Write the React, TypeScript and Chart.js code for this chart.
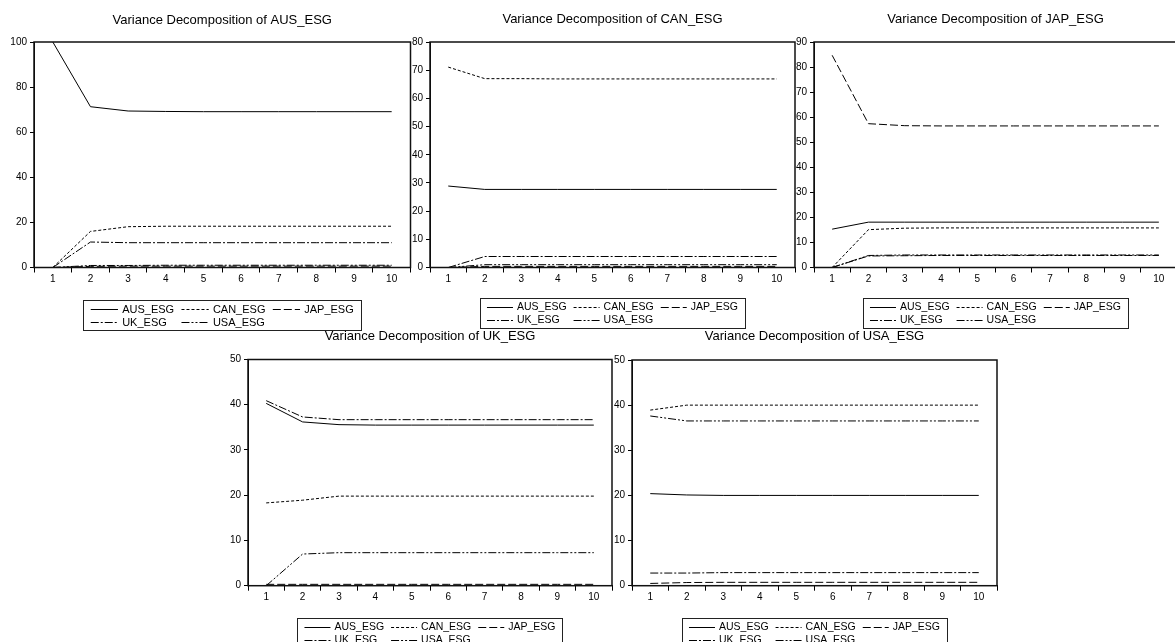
import React, { useEffect, useRef } from "react";
import { Chart, registerables } from "chart.js";

Chart.register(...registerables);

// ---------- data ----------
const periods = ["1", "2", "3", "4", "5", "6", "7", "8", "9", "10"];
const seriesNames = ["AUS_ESG", "CAN_ESG", "JAP_ESG", "UK_ESG", "USA_ESG"];

// Variance Decomposition of AUS_ESG
const ausAUS = [100, 71.3, 69.4, 69.2, 69.1, 69.1, 69.1, 69.1, 69.1, 69.1];
const ausCAN = [0, 16.0, 18.1, 18.3, 18.3, 18.3, 18.3, 18.3, 18.3, 18.3];
const ausJAP = [0, 0.5, 0.6, 0.6, 0.6, 0.6, 0.6, 0.6, 0.6, 0.6];
const ausUK = [0, 11.3, 11.0, 11.0, 11.0, 11.0, 11.0, 11.0, 11.0, 11.0];
const ausUSA = [0, 0.9, 0.9, 1.0, 1.0, 1.0, 1.0, 1.0, 1.0, 1.0];

// Variance Decomposition of CAN_ESG
const canAUS = [28.9, 27.7, 27.7, 27.7, 27.7, 27.7, 27.7, 27.7, 27.7, 27.7];
const canCAN = [71.1, 67.0, 67.0, 66.9, 66.9, 66.9, 66.9, 66.9, 66.9, 66.9];
const canJAP = [0, 0.4, 0.4, 0.4, 0.4, 0.4, 0.4, 0.4, 0.4, 0.4];
const canUK = [0, 3.9, 3.9, 3.9, 3.9, 3.9, 3.9, 3.9, 3.9, 3.9];
const canUSA = [0, 1.0, 1.0, 1.0, 1.0, 1.0, 1.0, 1.0, 1.0, 1.0];

// Variance Decomposition of JAP_ESG
const japAUS = [15.3, 18.1, 18.1, 18.1, 18.1, 18.1, 18.1, 18.1, 18.1, 18.1];
const japCAN = [0, 15.1, 15.7, 15.8, 15.8, 15.8, 15.8, 15.8, 15.8, 15.8];
const japJAP = [84.7, 57.4, 56.6, 56.5, 56.5, 56.5, 56.5, 56.5, 56.5, 56.5];
const japUK = [0, 4.6, 4.7, 4.8, 4.8, 4.8, 4.8, 4.8, 4.8, 4.8];
const japUSA = [0, 4.8, 5.0, 5.0, 5.0, 5.0, 5.0, 5.0, 5.0, 5.0];

// Variance Decomposition of UK_ESG
const ukAUS = [40.3, 36.2, 35.6, 35.5, 35.5, 35.5, 35.5, 35.5, 35.5, 35.5];
const ukCAN = [18.3, 18.9, 19.8, 19.8, 19.8, 19.8, 19.8, 19.8, 19.8, 19.8];
const ukJAP = [0.3, 0.3, 0.3, 0.3, 0.3, 0.3, 0.3, 0.3, 0.3, 0.3];
const ukUK = [40.9, 37.3, 36.7, 36.7, 36.7, 36.7, 36.7, 36.7, 36.7, 36.7];
const ukUSA = [0, 7.0, 7.3, 7.3, 7.3, 7.3, 7.3, 7.3, 7.3, 7.3];

// Variance Decomposition of USA_ESG
const usaAUS = [20.4, 20.1, 20.0, 20.0, 20.0, 20.0, 20.0, 20.0, 20.0, 20.0];
const usaCAN = [38.9, 40.0, 40.0, 40.0, 40.0, 40.0, 40.0, 40.0, 40.0, 40.0];
const usaJAP = [0.5, 0.7, 0.75, 0.75, 0.75, 0.75, 0.75, 0.75, 0.75, 0.75];
const usaUK = [2.8, 2.8, 2.9, 2.9, 2.9, 2.9, 2.9, 2.9, 2.9, 2.9];
const usaUSA = [37.6, 36.5, 36.5, 36.5, 36.5, 36.5, 36.5, 36.5, 36.5, 36.5];

const titles = [
  "Variance Decomposition of AUS_ESG",
  "Variance Decomposition of CAN_ESG",
  "Variance Decomposition of JAP_ESG",
  "Variance Decomposition of UK_ESG",
  "Variance Decomposition of USA_ESG",
];
const yMaxes = [100, 80, 90, 50, 50];
const ySteps = [20, 10, 10, 10, 10];

// ---------- styles / layout ----------
const FONT = '"Liberation Sans", Arial, Helvetica, sans-serif';
const dashStyles: number[][] = [[], [3, 2], [8, 3], [8, 2, 2, 2], [8, 2, 2, 2, 2, 2]];

type Layout = {
  left: number;
  top: number;
  right: number;
  bottom: number;
  titleY: number;
  legendTop: number;
  legendFont: number;
};

const layouts: Layout[] = [
  { left: 34, top: 42, right: 410.5, bottom: 267.5, titleY: 20, legendTop: 300, legendFont: 11 },
  { left: 430, top: 42, right: 795, bottom: 267.5, titleY: 19.5, legendTop: 298, legendFont: 10.5 },
  { left: 814, top: 42, right: 1177, bottom: 267.5, titleY: 19.5, legendTop: 298, legendFont: 10.5 },
  { left: 248, top: 359.5, right: 612, bottom: 585.7, titleY: 336, legendTop: 618, legendFont: 10.5 },
  { left: 632, top: 360, right: 997, bottom: 585.7, titleY: 336, legendTop: 618, legendFont: 10.5 },
];

const Y_AXIS_W = 32;
const X_AXIS_H = 20;

const framePlugin = {
  id: "evFrame",
  afterDraw(chart: any, _args: any, opts: any) {
    const { ctx, chartArea: a } = chart;
    ctx.save();
    // plot frame
    ctx.strokeStyle = "#111";
    ctx.lineWidth = 1.5;
    ctx.setLineDash([]);
    ctx.strokeRect(a.left, a.top, a.right - a.left, a.bottom - a.top);

    // title
    ctx.fillStyle = "#000";
    ctx.font = `13px ${FONT}`;
    ctx.textAlign = "center";
    ctx.textBaseline = "middle";
    const cx = (a.left + a.right) / 2;
    ctx.fillText(opts.title, cx, opts.titleY);

    // legend
    const fs = opts.legendFont;
    const k = fs / 10.5;
    ctx.font = `${fs}px ${FONT}`;
    const sample = 26 * k;
    const gap = 4 * k;
    const colGap = 7 * k;
    const padX = 7 * k;
    const rows = [
      [0, 1, 2],
      [3, 4],
    ];
    const colW: number[] = [];
    for (let c = 0; c < 3; c++) {
      let m = 0;
      rows.forEach((r) => {
        if (r[c] !== undefined) m = Math.max(m, ctx.measureText(seriesNames[r[c]]).width);
      });
      colW.push(sample + gap + m);
    }
    const boxW = padX * 2 + colW[0] + colW[1] + colW[2] + colGap * 2;
    const boxH = 30;
    const bx = cx - boxW / 2;
    const by = opts.legendTop;
    ctx.lineWidth = 1;
    ctx.strokeStyle = "#222";
    ctx.strokeRect(Math.round(bx) + 0.5, Math.round(by) + 0.5, Math.round(boxW), boxH);
    ctx.textAlign = "left";
    rows.forEach((r, ri) => {
      const ry = by + 9 + ri * 13;
      let x = bx + padX;
      r.forEach((si, ci) => {
        const ds = chart.data.datasets[si];
        ctx.beginPath();
        ctx.setLineDash(ds.borderDash || []);
        ctx.strokeStyle = "#000";
        ctx.lineWidth = 1;
        ctx.moveTo(x, Math.round(ry) + 0.5);
        ctx.lineTo(x + sample, Math.round(ry) + 0.5);
        ctx.stroke();
        ctx.setLineDash([]);
        ctx.fillStyle = "#000";
        ctx.fillText(seriesNames[si], x + sample + gap, ry + 0.5);
        x += colW[ci] + colGap;
      });
    });
    ctx.restore();
  },
};

function Panel({ idx, series }: { idx: number; series: number[][] }) {
  const ref = useRef<HTMLCanvasElement>(null);
  const L = layouts[idx];
  const x0 = Math.floor(L.left - Y_AXIS_W - 4);
  const y0 = Math.floor(L.top - 40);
  const cw = Math.ceil(L.right + 3 - x0);
  const ch = Math.ceil(L.legendTop + 34 - y0);

  useEffect(() => {
    const canvas = ref.current;
    if (!canvas) return;
    const padLeft = L.left - x0 - Y_AXIS_W;
    const padTop = L.top - y0;
    const padRight = x0 + cw - L.right;
    const padBottom = y0 + ch - L.bottom - X_AXIS_H;
    const chart = new Chart(canvas, {
      type: "line",
      data: {
        labels: periods,
        datasets: series.map((vals, i) => ({
          label: seriesNames[i],
          data: vals,
          borderColor: "#000",
          backgroundColor: "#000",
          borderWidth: 1,
          borderDash: dashStyles[i],
          pointRadius: 0,
          pointHoverRadius: 0,
          tension: 0,
          fill: false,
        })),
      },
      options: {
        responsive: false,
        animation: false,
        events: [],
        layout: {
          padding: { left: padLeft, top: padTop, right: padRight, bottom: padBottom },
        },
        plugins: {
          legend: { display: false },
          title: { display: false },
          tooltip: { enabled: false },
          evFrame: {
            title: titles[idx],
            titleY: L.titleY - y0,
            legendTop: L.legendTop - y0,
            legendFont: L.legendFont,
          },
        } as any,
        scales: {
          x: {
            type: "category",
            offset: true,
            afterFit: (s: any) => {
              s.height = X_AXIS_H;
            },
            grid: {
              offset: true,
              drawOnChartArea: false,
              drawTicks: true,
              tickLength: 5,
              color: "#000",
              lineWidth: 1,
            },
            border: { display: true, color: "#000", width: 1 },
            ticks: {
              color: "#000",
              font: { family: FONT, size: 10 },
              padding: 1,
              maxRotation: 0,
              autoSkip: false,
            },
          },
          y: {
            min: 0,
            max: yMaxes[idx],
            afterFit: (s: any) => {
              s.width = Y_AXIS_W;
            },
            grid: {
              drawOnChartArea: false,
              drawTicks: true,
              tickLength: 4,
              color: "#000",
              lineWidth: 1,
            },
            border: { display: true, color: "#000", width: 1 },
            ticks: {
              stepSize: ySteps[idx],
              color: "#000",
              font: { family: FONT, size: 10 },
              padding: 3,
              autoSkip: false,
            },
          },
        },
      },
      plugins: [framePlugin],
    });
    return () => chart.destroy();
  }, []);

  return (
    <canvas
      ref={ref}
      width={cw}
      height={ch}
      style={{ position: "absolute", left: x0, top: y0, width: cw, height: ch }}
    />
  );
}

export default function App() {
  const panels = [
    [ausAUS, ausCAN, ausJAP, ausUK, ausUSA],
    [canAUS, canCAN, canJAP, canUK, canUSA],
    [japAUS, japCAN, japJAP, japUK, japUSA],
    [ukAUS, ukCAN, ukJAP, ukUK, ukUSA],
    [usaAUS, usaCAN, usaJAP, usaUK, usaUSA],
  ];
  return (
    <div
      style={{
        position: "absolute",
        left: 0,
        top: 0,
        width: 1175,
        height: 642,
        overflow: "hidden",
        background: "#fff",
      }}
    >
      {panels.map((s, i) => (
        <Panel key={i} idx={i} series={s} />
      ))}
    </div>
  );
}
